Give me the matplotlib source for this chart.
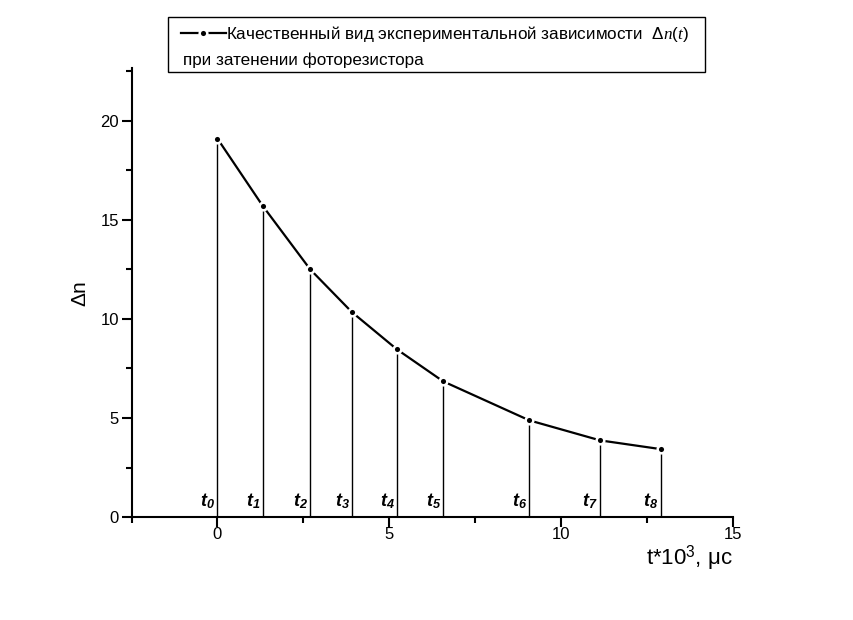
import numpy as np
import matplotlib
matplotlib.use('Agg')
import matplotlib.pyplot as plt
from matplotlib.ticker import MultipleLocator
from matplotlib.patches import Rectangle

plt.rcParams['font.family'] = ['Liberation Sans', 'DejaVu Sans']
plt.rcParams['mathtext.fontset'] = 'custom'
plt.rcParams['mathtext.rm'] = 'Liberation Sans'
plt.rcParams['mathtext.it'] = 'Liberation Serif:italic'
plt.rcParams['mathtext.bfit'] = 'Liberation Sans:bold:italic'

# точки кривой (t*10^3, мкс ; Δn)
t = [0.0, 1.32, 2.70, 3.91, 5.22, 6.57, 9.08, 11.14, 12.90]
dn = [19.1, 15.7, 12.5, 10.35, 8.47, 6.85, 4.88, 3.87, 3.43]
t_labels = ['0', '1', '2', '3', '4', '5', '6', '7', '8']
leg_line1 = 'Качественный вид экспериментальной зависимости  $\\mathit{\\Delta n(t)}$'
leg_line2 = 'при затенении фоторезистора'

fig = plt.figure(figsize=(8.54, 6.2), dpi=100)
ax = fig.add_axes([0.154, 0.166, 0.704, 0.724])

# вертикальные линии t0..t8
ax.vlines(t, 0, dn, colors='black', linewidth=1.0)
line, = ax.plot(t, dn, '-', color='black', linewidth=1.6,
                marker='o', markersize=5.5, markerfacecolor='black',
                markeredgecolor='white', markeredgewidth=1.8,
                label=leg_line1)

for x, s in zip(t, t_labels):
    ax.text(x - 0.06, 0.3, r'$\mathbfit{t}_{\mathbfit{' + s + '}}$', ha='right', va='bottom', fontsize=13)

ax.set_xlim(-2.5, 15)
ax.set_ylim(0, 22.65)
ax.xaxis.set_major_locator(MultipleLocator(5))
ax.xaxis.set_minor_locator(MultipleLocator(2.5))
ax.yaxis.set_major_locator(MultipleLocator(5))
ax.yaxis.set_minor_locator(MultipleLocator(2.5))
ax.tick_params(which='major', direction='out', length=7, width=1.5, labelsize=12, pad=2)
ax.tick_params(axis='x', which='major', pad=0)
ax.tick_params(which='minor', direction='out', length=4, width=1.5)
ax.spines['top'].set_visible(False)
ax.spines['right'].set_visible(False)
ax.spines['left'].set_linewidth(1.5)
ax.spines['bottom'].set_linewidth(1.5)

ax.set_xlabel('t*10$^3$, μc', fontsize=16, loc='right', labelpad=1)
ax.set_ylabel('Δn', fontsize=15, labelpad=8)

# рамка легенды
fig.patches.append(Rectangle((168/854, 1-72/620), (705-168)/854, 55/620,
                             transform=fig.transFigure, fill=False,
                             edgecolor='black', linewidth=1.0, zorder=5))
leg = fig.legend(handles=[line], loc='upper left', bbox_to_anchor=(176/854, 1-19/620),
                 fontsize=12.3, frameon=False, handlelength=2.6,
                 handletextpad=0.0, borderpad=0.3, borderaxespad=0)
fig.text(183/854, 1-60/620, leg_line2, fontsize=12.3, ha='left', va='center')

fig.savefig('out.png', dpi=100)
